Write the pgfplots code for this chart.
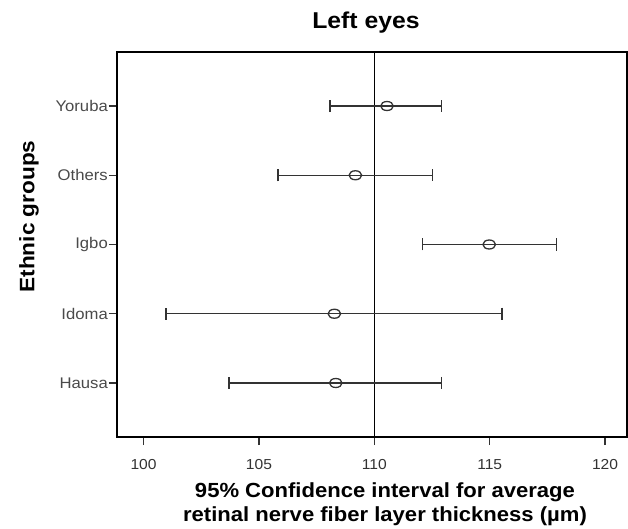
\documentclass[border=0pt]{standalone}
\usepackage{fontspec}
\setmainfont{Liberation Sans}[FakeStretch=1.08]
\usepackage{pgfplots}
\usepackage{pgfplotstable}
\pgfplotsset{compat=1.18}
\pgfplotstableread{
y  m       em    ep
1  108.33  4.63  4.59
2  108.27  7.29  7.26
3  114.98  2.89  2.92
4  109.18  3.36  3.35
5  110.55  2.47  2.37
}\ci
\definecolor{tickgray}{HTML}{333333}
\definecolor{labgray}{HTML}{4A4A4A}
\begin{document}
\begin{tikzpicture}
\path[use as bounding box] (-117bp,-92bp) rectangle (511bp,437bp);
\begin{axis}[
  at={(0,0)}, anchor=south west,
  scale only axis, width=510bp, height=385bp,
  xmin=98.85, xmax=120.95, ymin=0.22, ymax=5.78,
  axis line style={black, line width=1.4bp},
  xtick={100,105,110,115,120},
  ytick={1,2,3,4,5},
  yticklabels={Hausa,Idoma,Igbo,Others,Yoruba},
  tick align=outside, xtick pos=bottom, ytick pos=left,
  major tick length=8bp,
  tick style={tickgray, line width=1.2bp},
  /pgf/number format/assume math mode=true,
  xticklabel style={font=\fontsize{14.5}{16}\selectfont, text=tickgray, inner sep=0pt, anchor=base, yshift=-24.7bp},
  yticklabel style={font=\fontsize{15.5}{17}\selectfont, text=labgray, inner sep=0pt, anchor=east, xshift=-1bp},
  clip=false,
]
\addplot[black, line width=1.3bp] coordinates {(110,0.22) (110,5.78)};
\addplot[tickgray, line width=1.3bp, only marks, mark=o,
  mark options={mark size=4.5bp, xscale=1.4, fill=white, line width=1.3bp},
  error bars/.cd, x dir=both, x explicit,
  error bar style={tickgray, line width=1.4bp},
  error mark=|,
  error mark options={mark size=6bp, line width=1.4bp, tickgray}]
  table[x=m, y=y, x error minus=em, x error plus=ep] {\ci};
\end{axis}
\node[font=\fontsize{23}{26}\selectfont\bfseries, anchor=base] at (249bp,408bp) {Left eyes};
\node[font=\fontsize{20.5}{24.4}\selectfont\bfseries, anchor=base] at (268bp,-60.3bp) {95\% Confidence interval for average};
\node[font=\fontsize{20.5}{24.4}\selectfont\bfseries, anchor=base] at (268bp,-84.7bp) {retinal nerve fiber layer thickness (µm)};
\node[font=\fontsize{21}{24}\selectfont\bfseries, rotate=90, anchor=center] at (-88bp,220.5bp) {Ethnic groups};
\end{tikzpicture}
\end{document}
